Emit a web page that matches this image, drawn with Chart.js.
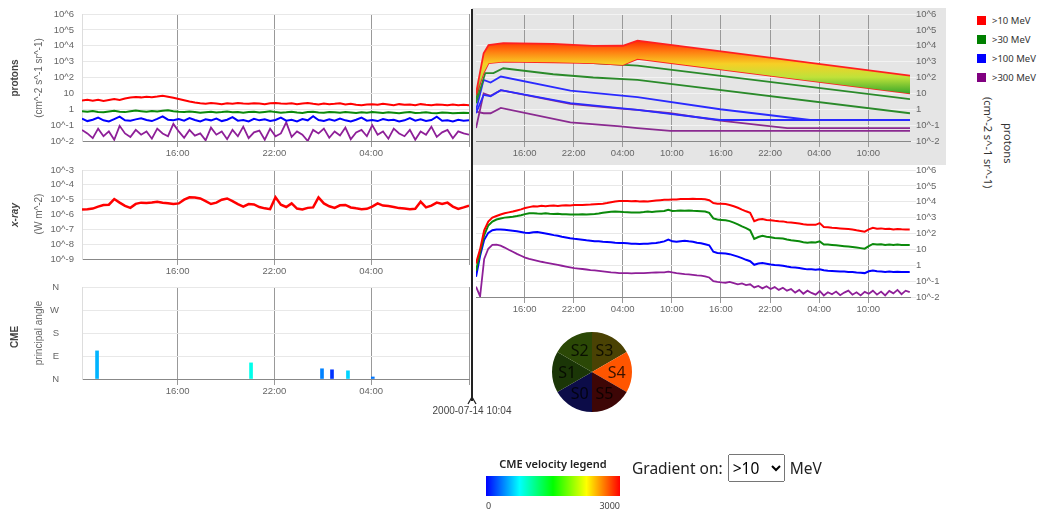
<!DOCTYPE html>
<html>
<head>
<meta charset="utf-8">
<title>Proton event 2000-07-14</title>
<script src="https://cdn.jsdelivr.net/npm/chart.js@4.4.1/dist/chart.umd.min.js"></script>
<style>
  body { margin: 0; width: 1041px; height: 510px; position: relative; overflow: hidden; background: #fff; font-family: 'Liberation Sans', Arial, sans-serif; }
  .abs { position: absolute; }
  canvas { display: block; }
  #fcBox { background: #e5e5e5; }
  .ytitle { position: absolute; transform: translate(-50%, -50%) rotate(-90deg); white-space: nowrap; font-size: 10px; color: #666; }
  .ytitle.main { font-weight: bold; color: #444; }
  .leg { position: absolute; left: 977px; font: 9.5px 'Noto Sans', sans-serif; color: #333; display: flex; align-items: center; }
  .leg span { display: inline-block; width: 9px; height: 9px; margin-right: 6px; }
  #unitRot { position: absolute; left: 978px; top: 88px; height: 110px; writing-mode: vertical-rl; text-align: center; font: 11px 'Noto Sans', sans-serif; line-height: 20px; color: #333; white-space: nowrap; }
  #divider { position: absolute; left: 471px; top: 9px; width: 2px; height: 392px; background: #222; }
  #nowLabel { position: absolute; left: 472px; top: 405px; transform: translateX(-50%); font-size: 10px; color: #444; white-space: nowrap; }
  #velTitle { position: absolute; left: 486px; width: 134px; top: 456px; text-align: center; font: 600 11px 'Noto Sans', sans-serif; color: #222; white-space: nowrap; }
  #velBar { position: absolute; left: 486px; top: 476px; width: 134px; height: 20px; background: linear-gradient(to right, #0000ff 0%, #00ffff 25%, #00ff00 50%, #ffff00 75%, #ff0000 100%); }
  .velTick { position: absolute; top: 499px; font: 9px 'Noto Sans', sans-serif; color: #444; }
  #gradCtl { position: absolute; left: 632px; top: 453px; height: 29px; display: flex; align-items: center; font: 15.5px 'Noto Sans', sans-serif; color: #222; }
  #gradCtl select { font: 15.5px 'Noto Sans', sans-serif; height: 28px; width: 57px; margin: 0 5px 0 5px; }
</style>
</head>
<body>

<div class="abs" style="left:0;top:0"><canvas id="protonHist" width="472" height="165"></canvas></div>
<div class="abs" id="fcBox" style="left:472px;top:8px"><canvas id="protonFc" width="474" height="157"></canvas></div>
<div class="abs" style="left:0;top:165px"><canvas id="xrayHist" width="472" height="120"></canvas></div>
<div class="abs" style="left:472px;top:165px"><canvas id="protonObs" width="474" height="155"></canvas></div>
<div class="abs" style="left:0;top:282px"><canvas id="cmeHist" width="472" height="121"></canvas></div>
<div class="abs" style="left:552px;top:332px"><canvas id="sectors" width="80" height="80"></canvas></div>

<div class="ytitle main" style="left:14px;top:78px">protons</div>
<div class="ytitle" style="left:38px;top:78px">(cm^-2 s^-1 sr^-1)</div>
<div class="ytitle main" style="left:14px;top:215px;font-style:italic">x-ray</div>
<div class="ytitle" style="left:38px;top:214px">(W m^-2)</div>
<div class="ytitle main" style="left:14px;top:337px">CME</div>
<div class="ytitle" style="left:38px;top:333px">principal angle</div>

<div class="leg" style="top:14px"><span style="background:#ff0000"></span>&gt;10 MeV</div>
<div class="leg" style="top:33px"><span style="background:#008000"></span>&gt;30 MeV</div>
<div class="leg" style="top:52px"><span style="background:#0000ff"></span>&gt;100 MeV</div>
<div class="leg" style="top:71px"><span style="background:#800080"></span>&gt;300 MeV</div>
<div id="unitRot">protons<br>(cm^-2 s^-1 sr^-1)</div>

<div id="divider"></div>
<svg class="abs" style="left:464px;top:394px" width="16" height="12"><polyline points="4,10 8,3 12,10" fill="none" stroke="#222" stroke-width="1.3"/></svg>
<div id="nowLabel">2000-07-14 10:04</div>

<div id="velTitle">CME velocity legend</div>
<div id="velBar"></div>
<div class="velTick" style="left:486px">0</div>
<div class="velTick" style="left:598px;width:22px;text-align:right">3000</div>
<div id="gradCtl">Gradient on:<select><option>&gt;10</option><option>&gt;30</option><option>&gt;100</option><option>&gt;300</option></select>MeV</div>

<script>
// time is in hours since 2000-07-13 00:00
const histStart = 10 + 4 / 60;      // 2000-07-13 10:04
const histStep = 1 / 3;             // 20 min samples
const obsStart = 34 + 4 / 60;       // 2000-07-14 10:04
const obsStep = 0.5;                // 30 min samples
const obsEnd = 87.1;

const fluxTickValues = [1e-2, 1e-1, 1, 10, 1e2, 1e3, 1e4, 1e5, 1e6];
const fluxTickLabels = ['10^-2', '10^-1', '1', '10', '10^2', '10^3', '10^4', '10^5', '10^6'];
const xrayTickValues = [1e-9, 1e-8, 1e-7, 1e-6, 1e-5, 1e-4, 1e-3];
const xrayTickLabels = ['10^-9', '10^-8', '10^-7', '10^-6', '10^-5', '10^-4', '10^-3'];
const histHourTicks = [16, 22, 28];
const histHourLabels = ['16:00', '22:00', '04:00'];
const obsHourTicks = [40, 46, 52, 58, 64, 70, 76, 82];
const obsHourLabels = ['16:00', '22:00', '04:00', '10:00', '16:00', '22:00', '04:00', '10:00'];
const angleTicks = [0, 90, 180, 270, 360];
const angleLabels = ['N', 'E', 'S', 'W', 'N'];

// past 24 h of protons
const hist10 = [3.6,3.9,3.4,4.0,3.3,3.8,4.4,3.9,4.8,5.5, 5.9,5.6,6.1,5.8,6.3,7.1,6.2,5.3,4.4,3.7,
  3.1,2.7,2.4,2.2,2.5,2.3,2.1,2.4,2.2,2.5, 2.3,2.2,2.4,2.3,2.1,2.4,2.5,2.3,2.2,2.4,
  2.1,2.3,2.5,2.2,2.0,2.3,2.1,2.2,2.4,2.0, 2.2,1.9,1.8,2.0,2.1,1.9,2.2,2.0,1.8,2.1,
  1.9,2.0,1.8,2.1,1.9,1.8,2.0,1.9,1.8,2.0, 1.8,1.9,1.8];
const hist30 = [0.75,0.70,0.78,0.68,0.65,0.72,0.80,0.70,0.66,0.74, 0.82,0.76,0.70,0.78,0.72,0.80,0.85,0.76,0.70,0.66,
  0.72,0.68,0.60,0.65,0.70,0.62,0.66,0.72,0.64,0.68, 0.60,0.66,0.70,0.62,0.68,0.74,0.66,0.60,0.64,0.70,
  0.62,0.58,0.66,0.70,0.62,0.60,0.68,0.64,0.60,0.66, 0.62,0.58,0.64,0.60,0.66,0.62,0.58,0.64,0.60,0.56,
  0.62,0.66,0.58,0.60,0.64,0.58,0.56,0.62,0.60,0.56, 0.58,0.60,0.57];
const hist100 = [0.26,0.18,0.22,0.30,0.20,0.17,0.24,0.34,0.20,0.19, 0.23,0.27,0.21,0.18,0.25,0.36,0.22,0.20,0.24,0.19,
  0.28,0.21,0.17,0.23,0.20,0.26,0.18,0.22,0.32,0.19, 0.21,0.17,0.25,0.20,0.23,0.18,0.21,0.30,0.19,0.22,
  0.17,0.24,0.20,0.36,0.21,0.18,0.23,0.19,0.26,0.20, 0.17,0.22,0.30,0.19,0.21,0.18,0.24,0.20,0.22,0.17,
  0.20,0.28,0.19,0.23,0.18,0.21,0.34,0.19,0.20,0.17, 0.22,0.19,0.20];
const hist300 = [0.050,0.030,0.015,0.060,0.020,0.040,0.012,0.090,0.030,0.018, 0.050,0.025,0.040,0.014,0.060,0.030,0.020,0.120,0.040,0.016,
  0.050,0.022,0.030,0.011,0.070,0.025,0.040,0.013,0.050,0.020, 0.080,0.015,0.035,0.045,0.012,0.060,0.020,0.030,0.150,0.018,
  0.040,0.025,0.010,0.050,0.030,0.060,0.016,0.040,0.022,0.070, 0.013,0.035,0.050,0.020,0.100,0.025,0.040,0.014,0.060,0.030,
  0.020,0.050,0.012,0.040,0.025,0.080,0.018,0.035,0.050,0.015, 0.040,0.030,0.025];

// past 24 h of x-ray flux
const histXray = [2.2e-6,2.3e-6,2.5e-6,3.4e-6,4.4e-6,4.6e-6,1.1e-5,6.3e-6,3.8e-6,2.8e-6,
  5.2e-6,6.3e-6,6.0e-6,6.4e-6,7.3e-6,6.3e-6,5.8e-6,5.1e-6,5.6e-6,1.0e-5,
  1.45e-5,1.4e-5,1.2e-5,8.0e-6,5.1e-6,6.3e-6,1.0e-5,1.2e-5,8.0e-6,5.0e-6,
  3.4e-6,5.1e-6,4.8e-6,3.2e-6,2.6e-6,2.3e-6,1.45e-5,4.6e-6,3.2e-6,5.6e-6,
  2.5e-6,2.2e-6,2.8e-6,3.0e-6,1.4e-5,5.6e-6,3.6e-6,2.8e-6,4.2e-6,4.4e-6,
  3.0e-6,2.6e-6,2.3e-6,2.4e-6,3.4e-6,5.6e-6,4.0e-6,3.7e-6,3.2e-6,2.7e-6,
  2.5e-6,2.3e-6,2.4e-6,7.3e-6,3.0e-6,4.0e-6,6.3e-6,5.1e-6,6.3e-6,3.4e-6,
  2.4e-6,3.0e-6,4.0e-6];

// CMEs: time, principal angle (deg), speed (km/s)
const cmeHours = [11.0, 20.55, 24.95, 25.57, 26.56, 28.1];
const cmeAngles = [110, 63, 40, 36, 32, 8];
const cmeSpeeds = [530, 810, 380, 150, 620, 350];

// observed protons after the event
const obs10 = [1.3,10,160,560,1000,1260,1580,1900,2140,2400, 2800,3300,4000,4600,5200,5000,5500,5200,5600,5800,
  5500,5900,6000,5900,6200,6300,6200,6500,6600,6900, 7200,7600,8300,9300,10500,11200,11000,11200,10700,11000,
  10500,10700,10500,11200,12000,12600,13200,13500,14100,13800, 14800,15100,14800,15500,15100,14800,14500,12600,8300,7600,
  7400,7100,6300,5200,4200,3200,2500,2000,600,760, 830,720,680,630,600,580,520,500,460,420,
  380,350,360,350,450,260,250,230,220,210, 200,190,180,160,145,130,180,230,200,210,
  190,200,180,195,185,180,180];
const obs30 = [0.45,6.3,80,320,560,760,890,1000,1070,1150, 1260,1410,1660,1860,1900,1820,1780,1860,1740,1700,
  1780,1660,1620,1580,1580,1550,1620,1580,1660,1700, 1820,2000,2190,2340,2400,2340,2240,2190,2140,2090,
  2140,2240,2400,2290,2400,2500,2630,3160,2630,2690, 2820,2750,2820,2690,2630,2500,2400,2000,890,760,
  720,690,600,480,380,280,220,160,46,60, 71,63,58,52,50,48,42,38,35,32,
  28,26,28,27,32,20,20,19,18,17, 16,15,14,13,12,11,16,22,20,21,
  19,20,19,20,19,19,19];
const obs100 = [0.19,4.0,40,110,160,180,178,170,160,150, 140,126,112,107,120,126,112,100,89,79,
  72,63,56,50,46,43,40,37,35,33, 32,30,29,28,26,25,25,24,23,23,
  22,23,23,24,25,28,32,42,32,30, 33,35,32,30,26,24,21,18,7.1,6.0,
  5.8,5.5,5.0,4.2,3.5,2.8,2.2,1.8,1.07,1.3, 1.4,1.26,1.12,1.05,1.0,0.93,0.83,0.76,0.71,0.66,
  0.60,0.55,0.56,0.52,0.56,0.48,0.45,0.44,0.42,0.40, 0.40,0.38,0.37,0.35,0.34,0.32,0.42,0.47,0.42,0.40,
  0.38,0.40,0.37,0.39,0.38,0.37,0.38];
const obs300 = [0.045,0.011,2.5,11,19,20,17,13,9.5,7.1, 5.2,4.0,3.0,2.5,2.2,1.9,1.66,1.48,1.32,1.17,
  1.05,0.93,0.83,0.74,0.66,0.62,0.58,0.54,0.50,0.47, 0.44,0.41,0.38,0.355,0.34,0.32,0.32,0.32,0.31,0.32,
  0.32,0.32,0.33,0.34,0.35,0.36,0.355,0.40,0.35,0.32, 0.30,0.28,0.27,0.25,0.23,0.22,0.20,0.17,0.10,0.089,
  0.083,0.079,0.089,0.076,0.063,0.071,0.056,0.063,0.040,0.050, 0.035,0.048,0.032,0.042,0.028,0.038,0.025,0.032,0.019,0.028,
  0.016,0.025,0.018,0.014,0.024,0.0126,0.020,0.015,0.022,0.013, 0.019,0.025,0.014,0.020,0.0126,0.021,0.016,0.025,0.014,0.022,
  0.0126,0.024,0.017,0.028,0.015,0.025,0.020];

// forecast bands (upper / lower) per energy channel
const fc10Hours = [34.07, 35.0, 35.6, 37.4, 43.5, 48.4, 52.0, 53.8, 87.1];
const fc10Upper = [10, 3300, 11000, 14500, 13000, 9800, 10000, 21000, 130];
const fc10Lower = [8, 200, 800, 1000, 900, 800, 620, 1500, 10];
const fc30Hours = [34.07, 35.2, 36.2, 37.4, 43.5, 48.4, 53.8, 87.1];
const fc30Upper = [3.9, 1400, 1350, 2900, 1260, 800, 560, 4.3];
const fc30Lower = [2.4, 190, 190, 380, 160, 100, 71, 0.56];
const fc100Hours = [34.07, 35.0, 35.85, 37.1, 45.6, 53.8, 63.9, 74.9, 87.1];
const fc100Upper = [0.9, 71, 48, 115, 15, 5.8, 1.0, 0.21, 0.21];
const fc100Lower = [0.56, 8, 6.5, 16, 2.4, 0.9, 0.21, 0.21, 0.21];
const fc300Hours = [34.07, 35.0, 35.85, 37.1, 45.6, 51.7, 53.8, 57.8, 63.9, 72.1, 87.1];
const fc300Upper = [0.065, 10, 7, 16, 2.2, 1.1, 0.9, 0.56, 0.19, 0.065, 0.065];
const fc300Lower = [0.72, 0.56, 0.56, 1.2, 0.15, 0.083, 0.065, 0.044, 0.044, 0.044, 0.044];

// solar sectors S0..S5, drawn clockwise from north starting at S3
const sectorNames = ['S3', 'S4', 'S5', 'S0', 'S1', 'S2'];
const sectorShares = [1, 1, 1, 1, 1, 1];
const sectorColors = ['#4a4204', '#ff5500', '#3d0606', '#0c0c48', '#1b3607', '#2b4806'];

const RED = '#ff0000', GREEN = '#0b8a0b', BLUE = '#0000ff', PURPLE = '#8e1f98';

Chart.defaults.font.family = "'Liberation Sans', Arial, sans-serif";
Chart.defaults.font.size = 9.5;
Chart.defaults.animation = false;

const sampled = (vals, start, step) => vals.map((v, i) => ({ x: start + i * step, y: v }));
const paired = (hours, vals) => hours.map((h, i) => ({ x: h, y: vals[i] }));
const speedColor = v => `hsl(${240 * (1 - v / 3000)}, 100%, 50%)`;

function timeAxis(min, max, ticks, labels, height, edgeTick) {
  const vals = edgeTick ? ticks.concat([max]) : ticks;
  return {
    type: 'linear', min: min, max: max, offset: false,
    afterBuildTicks: a => { a.ticks = vals.map(v => ({ value: v })); },
    afterFit: a => { a.height = height; },
    ticks: { autoSkip: false, maxRotation: 0, padding: 2, color: '#666', font: { lineHeight: 1 }, callback: (v, i) => labels[i] || '' },
    grid: { color: '#999', tickLength: 6, offset: false },
    border: { color: '#888' }
  };
}

// label gap is made with an invisible tick mark so the axis adds no extra top/bottom padding
function gapAxis(type, values, labels, position, width, gap, gridColor, visibleTick) {
  return {
    type: type, position: position, min: values[0], max: values[values.length - 1],
    afterBuildTicks: a => { a.ticks = values.map(v => ({ value: v })); },
    afterFit: a => { a.width = width; },
    ticks: { padding: 0, color: '#666', font: { lineHeight: 1 }, callback: (v, i) => labels[i] },
    grid: { color: gridColor, drawTicks: true, tickLength: gap, tickColor: visibleTick ? gridColor : 'rgba(0,0,0,0)' },
    border: { display: position === 'left', color: '#ddd' }
  };
}

const line = (label, data, color, width) => ({
  label: label, data: data, borderColor: color, backgroundColor: color,
  borderWidth: width, pointRadius: 0, tension: 0, fill: false
});

const baseOptions = (padding, scales) => ({
  responsive: false, animation: false, layout: { padding: padding }, scales: scales,
  plugins: { legend: { display: false }, tooltip: { enabled: false } }
});

// 1. protons, past 24 h
new Chart(document.getElementById('protonHist'), {
  type: 'line',
  data: { datasets: [
    line('>10 MeV', sampled(hist10, histStart, histStep), RED, 2),
    line('>30 MeV', sampled(hist30, histStart, histStep), GREEN, 2),
    line('>100 MeV', sampled(hist100, histStart, histStep), BLUE, 2),
    line('>300 MeV', sampled(hist300, histStart, histStep), PURPLE, 1.8)
  ] },
  options: baseOptions({ top: 14, right: 3, left: 0, bottom: 0 }, {
    x: timeAxis(histStart, histStart + 24, histHourTicks, histHourLabels, 24, true),
    y: gapAxis('logarithmic', fluxTickValues, fluxTickLabels, 'left', 82, 8, '#e8e8e8', false)
  })
});

// 2. proton forecast bands
const fc10Fill = c => {
  const ch = c.chart;
  if (!ch.chartArea) return 'rgba(0,0,0,0)';
  const y = ch.scales.y;
  const g = ch.ctx.createLinearGradient(0, y.getPixelForValue(2.5e4), 0, y.getPixelForValue(10));
  g.addColorStop(0, '#ff2200');
  g.addColorStop(0.22, '#ff7a10');
  g.addColorStop(0.45, '#f7cf25');
  g.addColorStop(0.7, '#bfe23a');
  g.addColorStop(1, '#3aa82a');
  return g;
};
const fcUpper10 = line('>10 MeV upper', paired(fc10Hours, fc10Upper), '#ff2020', 1.8);
fcUpper10.fill = '+1';
fcUpper10.backgroundColor = fc10Fill;
new Chart(document.getElementById('protonFc'), {
  type: 'line',
  data: { datasets: [
    fcUpper10,
    line('>10 MeV lower', paired(fc10Hours, fc10Lower), '#ff2020', 1.8),
    line('>30 MeV upper', paired(fc30Hours, fc30Upper), '#2a8a2a', 1.8),
    line('>30 MeV lower', paired(fc30Hours, fc30Lower), '#2a8a2a', 1.8),
    line('>100 MeV upper', paired(fc100Hours, fc100Upper), '#2a2aff', 1.8),
    line('>100 MeV lower', paired(fc100Hours, fc100Lower), '#2a2aff', 1.8),
    line('>300 MeV upper', paired(fc300Hours, fc300Upper), '#8a2a90', 1.8),
    line('>300 MeV lower', paired(fc300Hours, fc300Lower), '#8a2a90', 1.8)
  ] },
  options: baseOptions({ top: 6, right: 0, left: 4, bottom: 0 }, {
    x: timeAxis(obsStart, obsEnd, obsHourTicks, obsHourLabels, 24, false),
    y: gapAxis('logarithmic', fluxTickValues, fluxTickLabels, 'right', 36, 6, '#f3f3f3', true)
  })
});

// 3. x-ray, past 24 h
new Chart(document.getElementById('xrayHist'), {
  type: 'line',
  data: { datasets: [ line('x-ray', sampled(histXray, histStart, histStep), RED, 2.5) ] },
  options: baseOptions({ top: 5, right: 3, left: 0, bottom: 0 }, {
    x: timeAxis(histStart, histStart + 24, histHourTicks, histHourLabels, 26, true),
    y: gapAxis('logarithmic', xrayTickValues, xrayTickLabels, 'left', 82, 8, '#e8e8e8', false)
  })
});

// 4. observed protons after the event
new Chart(document.getElementById('protonObs'), {
  type: 'line',
  data: { datasets: [
    line('>10 MeV', sampled(obs10, obsStart, obsStep), RED, 2),
    line('>30 MeV', sampled(obs30, obsStart, obsStep), GREEN, 2),
    line('>100 MeV', sampled(obs100, obsStart, obsStep), BLUE, 2),
    line('>300 MeV', sampled(obs300, obsStart, obsStep), PURPLE, 1.8)
  ] },
  options: baseOptions({ top: 5, right: 0, left: 4, bottom: 0 }, {
    x: timeAxis(obsStart, obsEnd, obsHourTicks, obsHourLabels, 23, false),
    y: gapAxis('logarithmic', fluxTickValues, fluxTickLabels, 'right', 36, 6, '#e8e8e8', true)
  })
});

// 5. CMEs
new Chart(document.getElementById('cmeHist'), {
  type: 'bar',
  data: { datasets: [{
    label: 'CME',
    data: paired(cmeHours, cmeAngles),
    backgroundColor: cmeSpeeds.map(speedColor),
    barThickness: 3, borderWidth: 0
  }] },
  options: baseOptions({ top: 5, right: 3, left: 0, bottom: 0 }, {
    x: timeAxis(histStart, histStart + 24, histHourTicks, histHourLabels, 24, true),
    y: gapAxis('linear', angleTicks, angleLabels, 'left', 82, 23, '#e8e8e8', false)
  })
});

// 6. sector pie
const sectorLabels = {
  id: 'sectorLabels',
  afterDatasetsDraw(chart) {
    const c = chart.ctx;
    c.save();
    c.font = "16px 'Noto Sans', sans-serif";
    c.textAlign = 'center';
    c.textBaseline = 'middle';
    c.fillStyle = 'rgba(0,0,0,0.78)';
    chart.getDatasetMeta(0).data.forEach((arc, i) => {
      const p = arc.getProps(['x', 'y', 'startAngle', 'endAngle', 'outerRadius'], true);
      const mid = (p.startAngle + p.endAngle) / 2;
      const r = p.outerRadius * 0.62;
      c.fillText(chart.data.labels[i], p.x + Math.cos(mid) * r, p.y + Math.sin(mid) * r + 1);
    });
    c.restore();
  }
};
new Chart(document.getElementById('sectors'), {
  type: 'pie',
  data: { labels: sectorNames, datasets: [{ data: sectorShares, backgroundColor: sectorColors, borderWidth: 0 }] },
  options: { responsive: false, animation: false, layout: { padding: 0 },
    plugins: { legend: { display: false }, tooltip: { enabled: false } } },
  plugins: [sectorLabels]
});
</script>
</body>
</html>
